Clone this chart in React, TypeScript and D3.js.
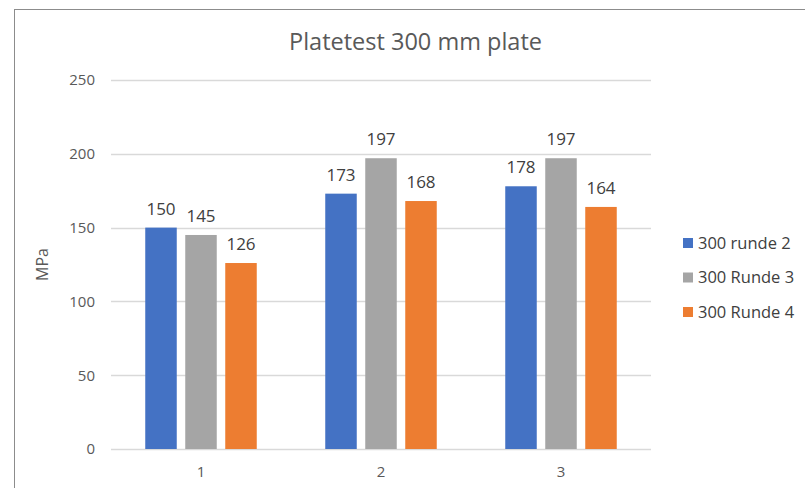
import React from "react";
import * as d3 from "d3";

const categories = ["1", "2", "3"];
const seriesNames = ["300 runde 2", "300 Runde 3", "300 Runde 4"];
const runde2 = [150, 173, 178];
const runde3 = [145, 197, 197];
const runde4 = [126, 168, 164];
const yTicks = [0, 50, 100, 150, 200, 250];
const colors = ["#4472C4", "#A5A5A5", "#ED7D31"];

const W = 805;
const H = 488;
const FONT = "'Open Sans', Lato, sans-serif";

export default function App() {
  const series = [runde2, runde3, runde4];
  const plot = { left: 111, right: 651, top: 80, bottom: 449 };

  const x = d3
    .scaleBand<string>()
    .domain(categories)
    .range([plot.left, plot.right])
    .paddingInner(0)
    .paddingOuter(0);

  const y = d3.scaleLinear().domain([0, 250]).range([plot.bottom, plot.top]);

  const barW = 31.5;
  const barStep = 40;

  return (
    <svg
      width={W}
      height={H}
      style={{ position: "absolute", left: 0, top: 0, background: "#fff" }}
      fontFamily={FONT}
    >
      <rect x={0} y={0} width={W} height={H} fill="#fff" />
      {/* chart frame, extends past the visible area on the right and bottom */}
      <rect
        x={14.5}
        y={9.5}
        width={W + 20}
        height={H + 20}
        fill="none"
        stroke="#8c8c8c"
        strokeWidth={1}
      />

      <text
        x={415.5}
        y={49.5}
        textAnchor="middle"
        fontSize={23.5}
        fill="#595959"
      >
        Platetest 300 mm plate
      </text>

      {/* gridlines */}
      {yTicks.map((t) => (
        <line
          key={t}
          x1={plot.left}
          x2={plot.right}
          y1={Math.round(y(t)) + 0.5}
          y2={Math.round(y(t)) + 0.5}
          stroke="#d9d9d9"
          strokeWidth={1.3}
        />
      ))}

      {/* y tick labels */}
      {yTicks.map((t) => (
        <text
          key={t}
          x={95}
          y={y(t)}
          dy="0.36em"
          textAnchor="end"
          fontSize={15}
          fill="#595959"
        >
          {t}
        </text>
      ))}

      <text
        transform={`translate(${48},${(plot.top + plot.bottom) / 2}) rotate(-90)`}
        textAnchor="middle"
        fontSize={16}
        fill="#595959"
      >
        MPa
      </text>

      {/* bars and value labels */}
      {categories.map((c, ci) => {
        const cx = (x(c) as number) + x.bandwidth() / 2;
        return (
          <g key={c}>
            {series.map((s, si) => {
              const bx = cx + (si - 1) * barStep - barW / 2;
              const v = s[ci];
              return (
                <g key={si}>
                  <rect
                    x={bx}
                    y={y(v)}
                    width={barW}
                    height={y(0) - y(v)}
                    fill={colors[si]}
                  />
                  <text
                    x={bx + barW / 2}
                    y={y(v) - 13}
                    textAnchor="middle"
                    fontSize={17}
                    fill="#404040"
                  >
                    {v}
                  </text>
                </g>
              );
            })}
            <text
              x={cx}
              y={477}
              textAnchor="middle"
              fontSize={15}
              fill="#595959"
            >
              {c}
            </text>
          </g>
        );
      })}

      {/* legend */}
      {seriesNames.map((n, i) => {
        const cy = 243 + i * 34.5;
        return (
          <g key={n}>
            <rect x={683} y={cy - 5} width={10} height={10} fill={colors[i]} />
            <text x={698} y={cy} dy="0.36em" fontSize={16.5} fill="#404040">
              {n}
            </text>
          </g>
        );
      })}
    </svg>
  );
}
